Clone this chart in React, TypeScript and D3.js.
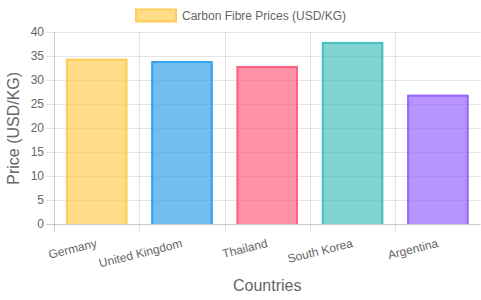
import React from "react";
import * as d3 from "d3";

const categories = ["Germany", "United Kingdom", "Thailand", "South Korea", "Argentina"];
const values = [34.5, 34, 33, 38, 27];
const fills = [
  "rgba(255,205,86,0.7)",
  "rgba(54,162,235,0.7)",
  "rgba(255,99,132,0.7)",
  "rgba(75,192,192,0.7)",
  "rgba(153,102,255,0.7)",
];
const strokes = [
  "rgb(255,205,86)",
  "rgb(54,162,235)",
  "rgb(255,99,132)",
  "rgb(75,192,192)",
  "rgb(153,102,255)",
];
const yTicks = [0, 5, 10, 15, 20, 25, 30, 35, 40];
const legendLabel = "Carbon Fibre Prices (USD/KG)";
const xTitle = "Countries";
const yTitle = "Price (USD/KG)";

const W = 481;
const H = 300;
const left = 54;
const right = 480.5;
const top = 32.3;
const bottom = 224.3;
const font = "Arial, 'Liberation Sans', Helvetica, sans-serif";

export default function App() {
  const x = d3.scaleBand<string>().domain(categories).range([left, right]).paddingInner(0).paddingOuter(0);
  const y = d3.scaleLinear().domain([0, 40]).range([bottom, top]);
  const bw = x.bandwidth() * 0.72;
  const grid = "rgba(0,0,0,0.1)";
  const edges = categories.map((c) => x(c) as number).concat([right]);

  return (
    <svg width={W} height={H} style={{ position: "absolute", left: 0, top: 0 }} fontFamily={font}>
      <rect width={W} height={H} fill="#fff" />
      {/* horizontal grid */}
      {yTicks.map((t) => (
        <line key={"h" + t} x1={left - 8} x2={right} y1={Math.round(y(t)) + 0.5} y2={Math.round(y(t)) + 0.5}
          stroke={t === 0 ? "rgba(0,0,0,0.2)" : grid} strokeWidth={1} />
      ))}
      {/* vertical grid */}
      {edges.map((e, i) => (
        <line key={"v" + i} x1={Math.round(e) + 0.5} x2={Math.round(e) + 0.5} y1={top} y2={bottom + 8}
          stroke={i === 0 ? "rgba(0,0,0,0.2)" : grid} strokeWidth={1} />
      ))}
      {/* bars */}
      {categories.map((c, i) => {
        const cx = (x(c) as number) + x.bandwidth() / 2;
        const yt = y(values[i]);
        const x0 = cx - bw / 2;
        const x1 = cx + bw / 2;
        const by = Math.round(bottom);
        return (
          <g key={c}>
            <rect x={x0} y={yt} width={bw} height={by - yt} fill={fills[i]} />
            <path d={`M${x0 + 1},${by} V${yt + 1} H${x1 - 1} V${by}`} fill="none" stroke={strokes[i]} strokeWidth={2} />
          </g>
        );
      })}
      {/* y tick labels */}
      {yTicks.map((t) => (
        <text key={"yl" + t} x={44} y={y(t)} textAnchor="end" dominantBaseline="central" fontSize={12} fill="#666">
          {t}
        </text>
      ))}
      {/* x tick labels */}
      {categories.map((c) => {
        const cx = (x(c) as number) + x.bandwidth() / 2;
        return (
          <text key={"xl" + c} transform={`translate(${cx},${243}) rotate(-14)`} textAnchor="end"
            dominantBaseline="central" fontSize={12} fill="#666">
            {c}
          </text>
        );
      })}
      {/* axis titles */}
      <text x={(left + right) / 2} y={291} textAnchor="middle" fontSize={16} fill="#666">{xTitle}</text>
      <text transform={`translate(13,${(top + bottom) / 2}) rotate(-90)`} textAnchor="middle"
        dominantBaseline="central" fontSize={16} fill="#666">{yTitle}</text>
      {/* legend */}
      <rect x={136} y={9.5} width={40} height={12} fill={fills[0]} stroke={strokes[0]} strokeWidth={2} />
      <text x={182} y={15.5} dominantBaseline="central" fontSize={12} fill="#666">{legendLabel}</text>
    </svg>
  );
}
